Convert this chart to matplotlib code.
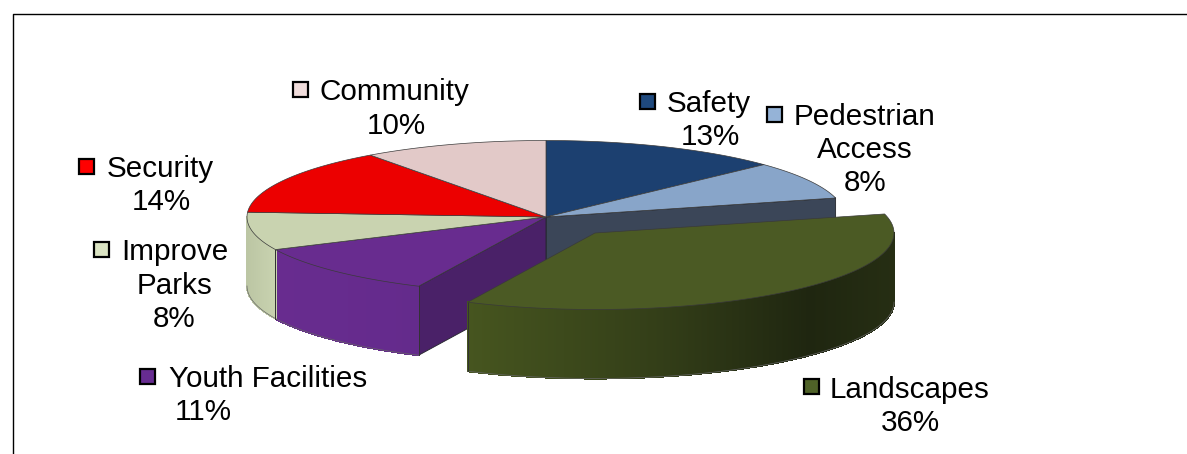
import numpy as np
import matplotlib
matplotlib.use("Agg")
import matplotlib.pyplot as plt
from matplotlib.patches import Polygon, Rectangle
from matplotlib.colors import to_rgb

plt.rcParams['font.family'] = ['Liberation Sans', 'DejaVu Sans']

# Data, clockwise from 12 o'clock
categories = ["Safety", "Pedestrian Access", "Landscapes", "Youth Facilities",
              "Improve Parks", "Security", "Community"]
shares = [13, 8, 36, 11, 8, 14, 10]
label_lines = [["Safety", "13%"], ["Pedestrian", "Access", "8%"], ["Landscapes", "36%"],
               ["Youth Facilities", "11%"], ["Improve", "Parks", "8%"], ["Security", "14%"],
               ["Community", "10%"]]

# Styles
top_colors = ["#1c4070", "#88a5c9", "#4b5a24", "#682c8f", "#c9d3b0", "#ec0000", "#e2c9c8"]
key_colors = ["#1f497d", "#95b3d7", "#4f6228", "#672c91", "#dbe4c3", "#ff0000", "#f0dcdb"]
# which radial edge shows its cut face: 0 = start edge, 1 = end edge
cut_faces = {"Pedestrian Access": (1, "#3b4658"), "Youth Facilities": (0, "#4a2168")}
wall_stops = {
    "Landscapes": [(0.0, "#46551f"), (0.45, "#333e18"), (0.8, "#1f2610"), (1.0, "#262e13")],
    "Youth Facilities": [(0.0, "#682c8f"), (1.0, "#642b8c")],
    "Improve Parks": [(0.0, "#bcc6a4"), (1.0, "#c9d3b0")],
}
explode = {"Landscapes": (49, 16)}

# Layout, in figure pixels
CX, CY, RX, RY, DEPTH = 546, 217, 299, 76.5, 69
key_centers = [(647, 101), (774, 114), (811, 386), (147, 376), (101, 249), (86, 166), (300, 89)]
line_centers = [
    [(709, 104), (710, 137)],
    [(865, 117), (865, 150), (865, 183)],
    [(910, 390), (910, 423)],
    [(268, 379), (203, 412)],
    [(175, 252), (175, 286), (174, 319)],
    [(160, 169), (161, 202)],
    [(394, 92), (396, 126)],
]

fig = plt.figure(figsize=(11.87, 4.54), dpi=100)
ax = fig.add_axes([0, 0, 1, 1])
ax.set_xlim(0, 1187)
ax.set_ylim(454, 0)
ax.axis("off")


def rim(theta, cx, cy):
    return cx + RX * np.sin(theta), cy - RY * np.cos(theta)


def wall_color(stops, t):
    pos = [s[0] for s in stops]
    rgb = np.array([to_rgb(s[1]) for s in stops])
    return tuple(np.interp(t, pos, rgb[:, i]) for i in range(3))


edges = np.radians(np.concatenate([[0], np.cumsum(shares)]) * 3.6)


def draw_slice(i, z):
    name = categories[i]
    a0, a1 = edges[i], edges[i + 1]
    dx, dy = explode.get(name, (0, 0))
    cx, cy = CX + dx, CY + dy
    # radial cut face
    if name in cut_faces:
        which, col = cut_faces[name]
        ex, ey = rim(a1 if which else a0, cx, cy)
        ax.add_patch(Polygon([(cx, cy), (ex, ey), (ex, ey + DEPTH), (cx, cy + DEPTH)],
                             closed=True, fc=col, ec="#22242a", lw=0.6, zorder=z))
    # outer wall, only the half facing the viewer
    lo, hi = max(a0, np.pi / 2), min(a1, 3 * np.pi / 2)
    if hi > lo and name in wall_stops:
        n = max(40, int((hi - lo) * 300))
        th = np.linspace(lo, hi, n + 1)
        xs, ys = rim(th, cx, cy)
        span = max(xs.max() - xs.min(), 1)
        # antialiased base under the strips, so no white seams show at the ends
        base = list(zip(xs, ys)) + list(zip(xs[::-1], ys[::-1] + DEPTH))
        ax.add_patch(Polygon(base, closed=True, fc=wall_color(wall_stops[name], 0.5),
                             ec=wall_color(wall_stops[name], 0.5), lw=0.6, zorder=z + 0.5))
        for k in range(n):
            t = ((xs[k] + xs[k + 1]) / 2 - xs.min()) / span
            c = wall_color(wall_stops[name], t)
            ax.add_patch(Polygon([(xs[k], ys[k]), (xs[k + 1], ys[k + 1]),
                                  (xs[k + 1], ys[k + 1] + DEPTH), (xs[k], ys[k] + DEPTH)],
                                 closed=True, fc=c, ec=c, lw=0.8, antialiased=False, zorder=z + 1))
        ax.plot(xs, ys + DEPTH, color="#666666", lw=0.5, zorder=z + 1.1)
        if lo == a0:
            ax.plot([xs[0], xs[0]], [ys[0], ys[0] + DEPTH], color="#333333", lw=0.7, zorder=z + 1.1)
        if hi == a1:
            ax.plot([xs[-1], xs[-1]], [ys[-1], ys[-1] + DEPTH], color="#333333", lw=0.7, zorder=z + 1.1)
    # top face
    th = np.linspace(a0, a1, 80)
    xs, ys = rim(th, cx, cy)
    ax.add_patch(Polygon([(cx, cy)] + list(zip(xs, ys)), closed=True,
                         fc=top_colors[i], ec="#3a3a3a", lw=0.5, zorder=z + 2))


# the exploded slice sits above all the others
for i, name in enumerate(categories):
    draw_slice(i, 10 if name in explode else 2)

# keys and labels
for col, (kx, ky), lines, centers in zip(key_colors, key_centers, label_lines, line_centers):
    ax.add_patch(Rectangle((kx - 7.5, ky - 7.5), 15, 15, fc=col, ec="black", lw=1.6, zorder=30))
    for s, (tx, ty) in zip(lines, centers):
        ax.text(tx, ty, s, ha="center", va="center", fontsize=21.3, color="black", zorder=30)

# frame
ax.plot([12.5, 12.5, 1187], [454, 14, 14], color="black", lw=1.0, zorder=40, clip_on=False)

fig.savefig("out.png", dpi=100)
